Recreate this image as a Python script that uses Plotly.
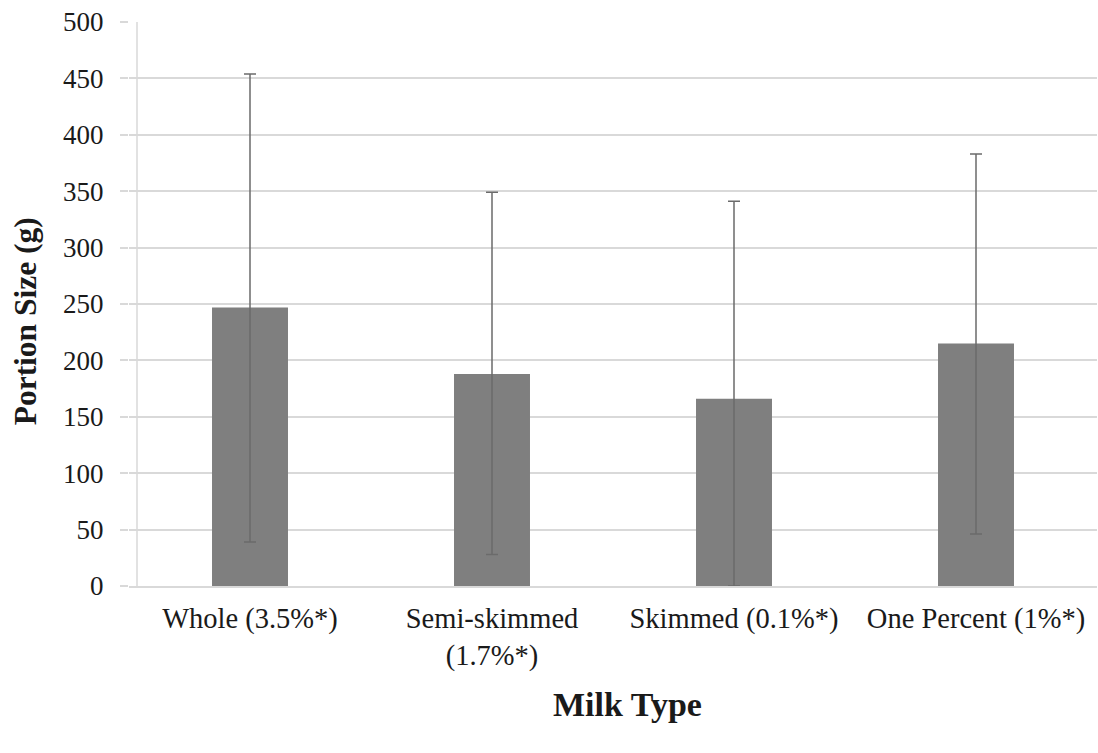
import plotly.graph_objects as go

categories = ["Whole (3.5%*)", "Semi-skimmed<br>(1.7%*)", "Skimmed (0.1%*)", "One Percent (1%*)"]
means = [247, 188, 166, 215]
err_plus = [207, 161, 175, 168]
err_minus = [208, 160, 166, 169]
y_ticks = [0, 50, 100, 150, 200, 250, 300, 350, 400, 450, 500]

FONT = "Liberation Serif, Times New Roman, serif"

fig = go.Figure()
fig.add_trace(go.Bar(
    x=categories, y=means,
    marker=dict(color="#7f7f7f", line=dict(width=0)),
    error_y=dict(type="data", symmetric=False, array=err_plus, arrayminus=err_minus,
                 color="#6b6b6b", thickness=1.5, width=6),
))

fig.update_layout(
    width=1098, height=753,
    margin=dict(l=129, r=1, t=22, b=167),
    paper_bgcolor="white", plot_bgcolor="white",
    bargap=0.686,
    showlegend=False,
    font=dict(family=FONT, size=27, color="#1a1a1a"),
    annotations=[
        dict(text="<b>Milk Type</b>", xref="paper", yref="paper", x=0.515, y=-0.21,
             xanchor="center", yanchor="middle", showarrow=False,
             font=dict(family=FONT, size=34, color="#1a1a1a")),
        dict(text="<b>Portion Size (g)</b>", xref="paper", yref="paper", x=-0.107, y=0.47,
             xanchor="center", yanchor="middle", showarrow=False, textangle=-90,
             font=dict(family=FONT, size=31.5, color="#1a1a1a")),
    ],
    shapes=[
        dict(type="line", xref="paper", yref="paper", x0=8/968, x1=8/968, y0=0, y1=1,
             line=dict(color="#d9d9d9", width=1.5), layer="below"),
    ],
)
fig.update_xaxes(
    showgrid=False, showline=True, linecolor="#d9d9d9", linewidth=1.5,
    ticks="", ticklabelstandoff=6,
    tickfont=dict(family=FONT, size=28.5, color="#1a1a1a"),
)
fig.update_yaxes(
    range=[0, 500], tickvals=y_ticks, showgrid=True, gridcolor="#d9d9d9", gridwidth=1.5,
    zeroline=False, showline=False, ticks="outside", ticklen=8, tickcolor="#d9d9d9",
    tickwidth=1.5, ticklabelstandoff=11,
    tickfont=dict(family=FONT, size=27, color="#1a1a1a"),
)

fig.write_html("out.html", config={"displayModeBar": False},
               post_script="document.body.style.margin='0px';")
